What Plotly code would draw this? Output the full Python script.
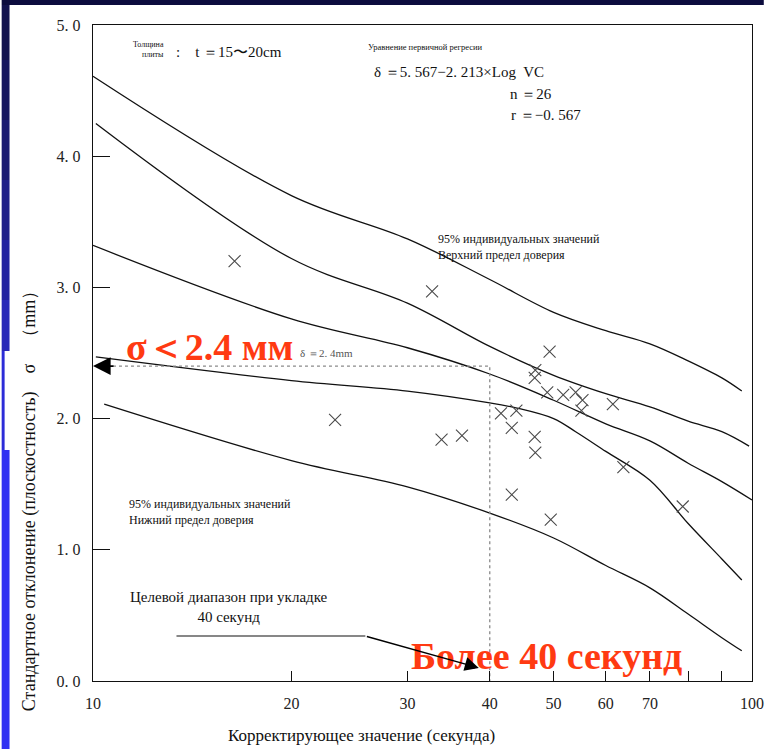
import numpy as np
import plotly.graph_objects as go

# ---- measured points: corrective value VC (s) vs. std. deviation of flatness sigma (mm)
VC_SEC = [16.4, 32.7, 23.3, 33.8, 36.3, 41.6, 43.9, 43.2, 43.2, 46.8, 46.9, 49.3,
          48.9, 46.8, 46.9, 49.5, 51.7, 54.0, 55.3, 55.1, 61.5, 63.8, 78.5]
SIGMA_MM = [3.20, 2.97, 1.99, 1.84, 1.87, 2.04, 2.06, 1.93, 1.42, 2.31, 2.37, 2.51,
            2.20, 1.86, 1.74, 1.23, 2.18, 2.20, 2.14, 2.06, 2.11, 1.63, 1.33]

# ---- regression line and confidence limits
UPPER_IND_X = [10, 20, 30, 40, 50, 60, 70, 80, 90, 96.5]
UPPER_IND_Y = [4.61, 3.70, 3.37, 3.06, 2.81, 2.67, 2.57, 2.44, 2.31, 2.21]

UPPER_MEAN_X = [10.1, 20, 30, 40, 50, 60, 70, 80, 90, 99]
UPPER_MEAN_Y = [4.25, 3.22, 2.88, 2.55, 2.33, 2.19, 2.09, 1.98, 1.90, 1.79]

REG_X = [10, 20, 30, 40, 50, 60, 70, 80, 90, 100]
REG_Y = [3.32, 2.76, 2.54, 2.34, 2.14, 1.96, 1.83, 1.66, 1.52, 1.38]

LOWER_MEAN_X = [10.1, 20, 30, 40, 44, 50, 54, 60, 70, 80, 90, 96.5]
LOWER_MEAN_Y = [2.47, 2.29, 2.21, 2.12, 2.08, 2.00, 1.90, 1.75, 1.53, 1.20, 0.93, 0.77]

LOWER_IND_X = [10.4, 20, 30, 40, 50, 60, 70, 80, 90, 96.5]
LOWER_IND_Y = [2.11, 1.68, 1.48, 1.28, 1.09, 0.88, 0.71, 0.51, 0.33, 0.23]

# ---- target: 40 s, sigma below 2.4 mm
TARGET_SEC = 40
TARGET_SIGMA = 2.4
GUIDE_START_SEC = 10.5

# ---- axis ticks
X_TICKS = [10, 20, 30, 40, 50, 60, 70, 80, 90, 100]
X_TICK_TEXT = ["10", "20", "30", "40", "50", "60", "70", "", "", "100"]
Y_TICKS = [0, 1, 2, 3, 4, 5]
Y_TICK_TEXT = ["0. 0", "1. 0", "2. 0", "3. 0", "4. 0", "5. 0"]

SERIF = "'Liberation Serif', 'Times New Roman', 'DejaVu Serif', serif"
RED = "#ff3a12"

W, H = 776, 749
L, R, T, B = 93, 12, 25, 68
PW, PH = W - L - R, H - T - B


def paper(px, py):
    """Convert page pixel position to paper coordinates."""
    return (px - L) / PW, (H - B - py) / PH


fig = go.Figure()

curve_style = dict(color="#111111", width=1.3)
for xs, ys in [(UPPER_IND_X, UPPER_IND_Y), (UPPER_MEAN_X, UPPER_MEAN_Y),
               (REG_X, REG_Y), (LOWER_MEAN_X, LOWER_MEAN_Y),
               (LOWER_IND_X, LOWER_IND_Y)]:
    fig.add_trace(go.Scatter(x=xs, y=ys, mode="lines",
                             line=dict(shape="spline", smoothing=1.0, **curve_style),
                             hoverinfo="skip", showlegend=False))

# dotted guide lines for the 40 s / 2.4 mm target
fig.add_trace(go.Scatter(x=[GUIDE_START_SEC, TARGET_SEC, TARGET_SEC],
                         y=[TARGET_SIGMA, TARGET_SIGMA, 0],
                         mode="lines", line=dict(color="#8a8a8a", width=1.3, dash="dot"),
                         hoverinfo="skip", showlegend=False))

fig.add_trace(go.Scatter(x=VC_SEC, y=SIGMA_MM, mode="markers",
                         marker=dict(symbol="x-thin", size=12,
                                     line=dict(color="#4a4a4a", width=1.1)),
                         showlegend=False))

shapes = []
# dark band along the top of the page
x0, y0 = paper(0, 0)
x1, y1 = paper(W, 5)
shapes.append(dict(type="rect", xref="paper", yref="paper", x0=x0, x1=x1, y0=y1, y1=y0,
                   fillcolor="#0c0c3e", line=dict(width=0), layer="below"))
# blue gradient strip on the left edge
stripe = [(5, 60, "#12124e"), (60, 120, "#16165e"), (120, 180, "#1a1a72"),
          (180, 240, "#1f1f88"), (240, 300, "#2323a0"), (300, 351, "#2828b8"),
          (351, 450, "#2c2cd8"), (450, 749, "#3232f2")]
for ya, yb, col in stripe:
    wdt = 3 if (ya == 351) else 8
    sx0, sy0 = paper(0, ya)
    sx1, sy1 = paper(wdt, yb)
    shapes.append(dict(type="rect", xref="paper", yref="paper", x0=sx0, x1=sx1,
                       y0=sy1, y1=sy0, fillcolor=col, line=dict(width=0), layer="below"))
# leader line of the target-range note
lx0, ly = paper(178, 636)
lx1 = np.log10(25.9) - 1
shapes.append(dict(type="line", xref="paper", yref="paper", x0=lx0, x1=lx1, y0=ly, y1=ly,
                   line=dict(color="#111111", width=1.2)))

ann = []


def text(px, py, s, size, xanchor="left", color="#111111", bold=False, align="left",
         angle=0, yanchor="middle"):
    xp, yp = paper(px, py)
    ann.append(dict(xref="paper", yref="paper", x=xp, y=yp, text=f"<b>{s}</b>" if bold else s,
                    showarrow=False, xanchor=xanchor, yanchor=yanchor, align=align,
                    textangle=angle, font=dict(family=SERIF, size=size, color=color)))


text(167, 50, "Толщина<br>плиты", 8, xanchor="right", align="right")
text(175, 52, ":　t ＝15〜20cm", 15)
text(371, 47, "Уравнение первичной регресии", 8.5)
text(377, 72, "δ ＝5. 567−2. 213×Log  VC", 15)
text(516, 94, "n ＝26", 15)
text(517, 115, "r ＝−0. 567", 15)
text(442, 247, "95% индивидуальных значений<br>Верхний предел доверия", 12)
text(128, 512, "95% индивидуальных значений<br>Нижний предел доверия", 12)
text(231, 607, "Целевой диапазон при укладке<br>40 секунд", 15, xanchor="center",
     align="center")
text(302, 353, "δ ＝2. 4mm", 11, color="#555555")
text(212, 347, "σ＜2.4 мм", 38, xanchor="center", color=RED, bold=True)
text(555, 656, "Более 40 секунд", 38, xanchor="center", color=RED, bold=True)
text(366, 735, "Корректирующее значение (секунда)", 17, xanchor="center")
text(28, 497, "Стандартное отклонение (плоскостность)　σ　（mm）", 18,
     xanchor="center", angle=-90)

# arrow heads
ann.append(dict(xref="x", yref="y", x=np.log10(10), y=TARGET_SIGMA, ax=22, ay=0,
                text="", showarrow=True, arrowhead=2, arrowsize=2.2, arrowwidth=1.6,
                arrowcolor="#000000"))
ann.append(dict(xref="x", yref="y", x=np.log10(38.5), y=0.1,
                axref="x", ayref="y", ax=np.log10(25.9), ay=(681 - 636) / 131.5,
                text="", showarrow=True, arrowhead=2, arrowsize=2.0, arrowwidth=1.4,
                arrowcolor="#000000"))

fig.update_layout(
    width=W, height=H,
    margin=dict(l=L, r=R, t=T, b=B),
    paper_bgcolor="white", plot_bgcolor="white",
    font=dict(family=SERIF, color="#111111"),
    shapes=shapes, annotations=ann,
    xaxis=dict(type="log", range=[1, 2], tickvals=X_TICKS, ticktext=X_TICK_TEXT,
               ticks="inside", ticklen=10, tickwidth=1.3, tickcolor="#111111",
               showline=True, mirror=True, linecolor="#111111", linewidth=1.4,
               showgrid=False, zeroline=False, ticklabelstandoff=8,
               tickfont=dict(family=SERIF, size=16, color="#222222")),
    yaxis=dict(range=[0, 5], tickvals=Y_TICKS, ticktext=Y_TICK_TEXT,
               ticks="inside", ticklen=17, tickwidth=1.3, tickcolor="#111111",
               showline=True, mirror=True, linecolor="#111111", linewidth=1.4,
               showgrid=False, zeroline=False, ticklabelstandoff=8,
               tickfont=dict(family=SERIF, size=16, color="#222222")),
)

fig.write_html("out.html")
